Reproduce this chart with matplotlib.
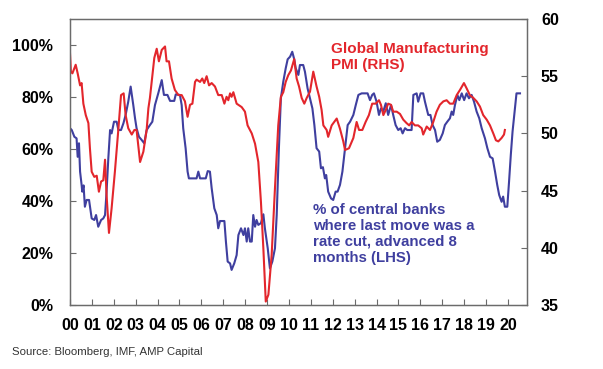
import numpy as np
import matplotlib
matplotlib.use("Agg")
import matplotlib.pyplot as plt

# Global manufacturing PMI (right axis)
pmi_t = [2000.00, 2000.04, 2000.11, 2000.26, 2000.35, 2000.46, 2000.53, 2000.61, 2000.72, 2000.84,
         2000.91, 2000.99, 2001.11, 2001.22, 2001.32, 2001.42, 2001.52, 2001.60, 2001.67, 2001.78,
         2001.90, 2002.05, 2002.21, 2002.33, 2002.45, 2002.54, 2002.66, 2002.82, 2002.94, 2003.04,
         2003.20, 2003.35, 2003.50, 2003.58, 2003.65, 2003.85, 2003.96, 2004.06, 2004.19, 2004.34,
         2004.41, 2004.52, 2004.64, 2004.79, 2004.95, 2005.10, 2005.25, 2005.37, 2005.48, 2005.59,
         2005.71, 2005.78, 2005.94, 2006.04, 2006.13, 2006.24, 2006.35, 2006.47, 2006.62, 2006.77,
         2006.93, 2007.05, 2007.15, 2007.23, 2007.31, 2007.38, 2007.46, 2007.61, 2007.84, 2007.99,
         2008.11, 2008.30, 2008.45, 2008.60, 2008.72, 2008.83, 2008.94, 2009.06, 2009.21, 2009.36,
         2009.51, 2009.63, 2009.74, 2009.85, 2009.97, 2010.09, 2010.24, 2010.35, 2010.46, 2010.58,
         2010.70, 2010.81, 2010.96, 2011.11, 2011.26, 2011.38, 2011.49, 2011.57, 2011.72, 2011.79,
         2011.95, 2012.18, 2012.33, 2012.48, 2012.56, 2012.74, 2012.94, 2013.09, 2013.20, 2013.35,
         2013.50, 2013.65, 2013.80, 2013.96, 2014.11, 2014.20, 2014.31, 2014.42, 2014.53, 2014.66,
         2014.76, 2014.92, 2015.07, 2015.22, 2015.37, 2015.49, 2015.60, 2015.75, 2015.90, 2016.06,
         2016.13, 2016.29, 2016.44, 2016.59, 2016.74, 2016.89, 2017.05, 2017.20, 2017.35, 2017.50,
         2017.66, 2017.81, 2017.99, 2018.11, 2018.26, 2018.42, 2018.57, 2018.72, 2018.87, 2019.03,
         2019.18, 2019.33, 2019.45, 2019.56, 2019.71, 2019.82, 2019.86]
pmi_v = [57.0, 55.4, 55.25, 56.0, 55.25, 54.2, 54.4, 52.6, 51.6, 50.9,
         48.7, 46.65, 46.2, 46.3, 44.9, 45.8, 45.9, 47.7, 44.6, 41.3,
         43.45, 46.65, 50.4, 53.35, 53.5, 51.6, 50.45, 49.9, 50.3, 50.3,
         47.5, 48.4, 50.3, 52.2, 53.1, 56.6, 57.4, 56.3, 57.3, 57.6,
         56.3, 56.3, 54.8, 53.8, 53.35, 53.35, 52.8, 51.45, 52.5, 52.6,
         54.5, 54.7, 54.5, 54.8, 54.4, 55.0, 54.2, 54.4, 54.1, 53.35,
         53.35, 52.6, 53.2, 52.9, 53.5, 53.2, 53.6, 52.6, 52.3, 51.9,
         50.7, 50.0, 49.1, 47.5, 44.0, 39.95, 35.3, 35.9, 39.4, 45.2,
         50.7, 53.2, 53.6, 54.5, 55.1, 55.5, 56.5, 54.8, 54.1, 53.1,
         52.6, 53.1, 53.65, 55.4, 54.1, 53.2, 52.05, 50.7, 50.3, 49.7,
         50.7, 51.3, 50.4, 49.3, 48.55, 48.7, 49.6, 51.0, 50.3, 50.3,
         51.0, 51.6, 52.6, 52.6, 52.9, 52.5, 51.6, 52.05, 52.6, 52.5,
         51.9, 51.9, 51.7, 51.2, 50.9, 50.7, 51.0, 50.7, 50.7, 50.45,
         49.9, 50.6, 50.3, 51.0, 51.9, 52.5, 52.8, 52.9, 52.6, 52.6,
         53.35, 53.8, 54.4, 53.95, 53.35, 53.1, 52.8, 52.35, 51.6, 51.2,
         50.7, 50.0, 49.4, 49.3, 49.6, 49.9, 50.3]

# % of central banks where last move was a cut, advanced 8 months (left axis)
cut_t = [2000.00, 2000.08, 2000.20, 2000.30, 2000.35, 2000.41, 2000.46, 2000.53, 2000.56, 2000.62,
         2000.68, 2000.76, 2000.87, 2000.99, 2001.11, 2001.19, 2001.29, 2001.42, 2001.52, 2001.60,
         2001.67, 2001.75, 2001.83, 2001.90, 2002.01, 2002.13, 2002.21, 2002.33, 2002.44, 2002.54,
         2002.66, 2002.77, 2002.89, 2002.97, 2003.04, 2003.15, 2003.27, 2003.39, 2003.50, 2003.65,
         2003.76, 2003.88, 2004.03, 2004.19, 2004.29, 2004.45, 2004.57, 2004.76, 2004.83, 2005.02,
         2005.10, 2005.17, 2005.28, 2005.37, 2005.43, 2005.78, 2005.86, 2005.94, 2006.20, 2006.29,
         2006.39, 2006.47, 2006.59, 2006.70, 2006.77, 2006.85, 2007.05, 2007.12, 2007.20, 2007.31,
         2007.38, 2007.50, 2007.61, 2007.69, 2007.81, 2007.92, 2007.99, 2008.07, 2008.14, 2008.22,
         2008.30, 2008.37, 2008.45, 2008.52, 2008.60, 2008.72, 2008.83, 2008.90, 2009.03, 2009.13,
         2009.24, 2009.36, 2009.44, 2009.54, 2009.63, 2009.74, 2009.85, 2009.94, 2010.05, 2010.15,
         2010.24, 2010.31, 2010.43, 2010.50, 2010.65, 2010.73, 2010.85, 2010.96, 2011.07, 2011.16,
         2011.26, 2011.38, 2011.46, 2011.55, 2011.64, 2011.70, 2011.79, 2011.92, 2012.02, 2012.13,
         2012.22, 2012.33, 2012.44, 2012.56, 2012.68, 2012.79, 2012.94, 2013.05, 2013.17, 2013.32,
         2013.59, 2013.70, 2013.80, 2013.88, 2014.00, 2014.11, 2014.20, 2014.31, 2014.42, 2014.53,
         2014.66, 2014.76, 2014.87, 2014.99, 2015.10, 2015.19, 2015.30, 2015.40, 2015.60, 2015.68,
         2015.83, 2015.90, 2016.01, 2016.13, 2016.21, 2016.36, 2016.46, 2016.56, 2016.67, 2016.77,
         2016.89, 2017.02, 2017.12, 2017.23, 2017.35, 2017.43, 2017.50, 2017.58, 2017.69, 2017.78,
         2017.89, 2018.00, 2018.11, 2018.22, 2018.34, 2018.45, 2018.57, 2018.69, 2018.80, 2018.95,
         2019.06, 2019.18, 2019.30, 2019.41, 2019.51, 2019.60, 2019.71, 2019.78, 2019.86, 2019.97,
         2020.05, 2020.13, 2020.21, 2020.32, 2020.39, 2020.55]
cut_v = [68.0, 67.3, 64.7, 64.1, 57.0, 62.2, 51.3, 46.2, 43.6, 46.0,
         37.8, 40.4, 40.4, 33.3, 32.7, 34.6, 30.1, 32.7, 33.3, 34.6,
         43.6, 56.4, 67.3, 66.0, 70.5, 70.5, 67.3, 67.3, 69.9, 73.1,
         78.2, 84.0, 76.9, 71.8, 68.0, 64.7, 63.5, 62.2, 67.3, 69.2,
         70.5, 76.9, 81.4, 86.5, 80.8, 80.8, 78.5, 78.5, 81.0, 80.8,
         76.9, 68.0, 60.3, 51.3, 48.7, 48.7, 51.3, 48.7, 48.7, 51.5,
         51.3, 44.9, 37.2, 34.6, 29.5, 32.3, 32.3, 24.4, 16.7, 16.0,
         13.5, 16.0, 19.2, 26.9, 29.5, 26.9, 29.5, 24.4, 29.5, 24.4,
         24.4, 34.6, 30.1, 32.7, 30.8, 31.5, 34.9, 29.5, 21.8, 14.1,
         16.7, 21.8, 34.6, 60.3, 79.5, 85.9, 91.0, 94.5, 95.5, 97.4,
         94.5, 91.0, 88.5, 92.3, 92.3, 89.7, 83.3, 79.5, 75.6, 69.2,
         60.3, 59.0, 52.6, 53.0, 48.7, 50.0, 43.6, 41.0, 40.4, 43.6,
         43.6, 46.2, 51.3, 60.3, 69.2, 70.5, 73.1, 76.9, 80.8, 81.4,
         81.4, 78.8, 80.8, 81.4, 78.2, 73.1, 75.6, 74.5, 77.6, 73.1,
         76.9, 73.1, 69.2, 67.3, 68.0, 66.0, 68.0, 67.3, 67.3, 80.8,
         81.4, 78.2, 81.4, 81.4, 78.2, 73.1, 73.1, 69.2, 67.3, 62.8,
         63.5, 66.0, 69.2, 70.5, 71.8, 74.4, 73.1, 76.9, 80.8, 78.8,
         81.4, 78.8, 81.4, 79.5, 80.8, 78.2, 74.4, 71.8, 68.0, 64.1,
         60.3, 57.0, 56.4, 51.3, 46.2, 42.3, 39.7, 41.7, 37.8, 37.8,
         47.4, 57.7, 66.7, 75.6, 81.4, 81.4]

year_ticks = list(range(2000, 2021))
year_labels = ["00", "01", "02", "03", "04", "05", "06", "07", "08", "09", "10",
               "11", "12", "13", "14", "15", "16", "17", "18", "19", "20"]
left_ticks = [0, 20, 40, 60, 80, 100]
left_labels = ["0%", "20%", "40%", "60%", "80%", "100%"]
right_ticks = [35, 40, 45, 50, 55, 60]

plt.rcParams['font.family'] = ['Liberation Sans', 'DejaVu Sans']
blue = "#3f3f9f"
red = "#e3262c"
spine_col = "#6b6b6b"

fig = plt.figure(figsize=(6.03, 3.69), dpi=100)
ax = fig.add_axes([70/603, 1 - 305/369, 457/603, 286/369])
ax2 = ax.twinx()

ax.plot(cut_t, cut_v, color=blue, lw=1.5)
ax2.plot(pmi_t, pmi_v, color=red, lw=1.5)

ax.set_xlim(2000, 2020.87)
ax.set_ylim(0, 110)
ax2.set_ylim(35, 60)

ax.set_xticks(year_ticks)
ax.set_xticklabels(year_labels, fontsize=11.5, fontweight="bold")
ax.set_yticks(left_ticks)
ax.set_yticklabels(left_labels, fontsize=11.5, fontweight="bold")
ax2.set_yticks(right_ticks)
ax2.set_yticklabels([str(v) for v in right_ticks], fontsize=11.5, fontweight="bold")

ax.tick_params(axis="x", direction="in", length=4, pad=9, color=spine_col)
ax.tick_params(axis="y", direction="in", length=4, pad=12, color=spine_col)
ax2.tick_params(axis="y", direction="in", length=4, pad=10, color=spine_col)
for a in (ax, ax2):
    for s in a.spines.values():
        s.set_color(spine_col)
        s.set_linewidth(0.9)

ax2.text(2011.93, 58.0, "Global Manufacturing\nPMI (RHS)", color=red, fontsize=11,
         fontweight="bold", va="top", ha="left", linespacing=1.2)
ax.text(2011.12, 39.4, "% of central banks\nwhere last move was a\nrate cut, advanced 8\nmonths (LHS)",
        color=blue, fontsize=10.8, fontweight="bold", va="top", ha="left", linespacing=1.2)

fig.text(12/603, 1 - 352/369, "Source: Bloomberg, IMF, AMP Capital", fontsize=8.2,
         color="#333333", va="center", ha="left")

fig.savefig("out.png", dpi=100)
